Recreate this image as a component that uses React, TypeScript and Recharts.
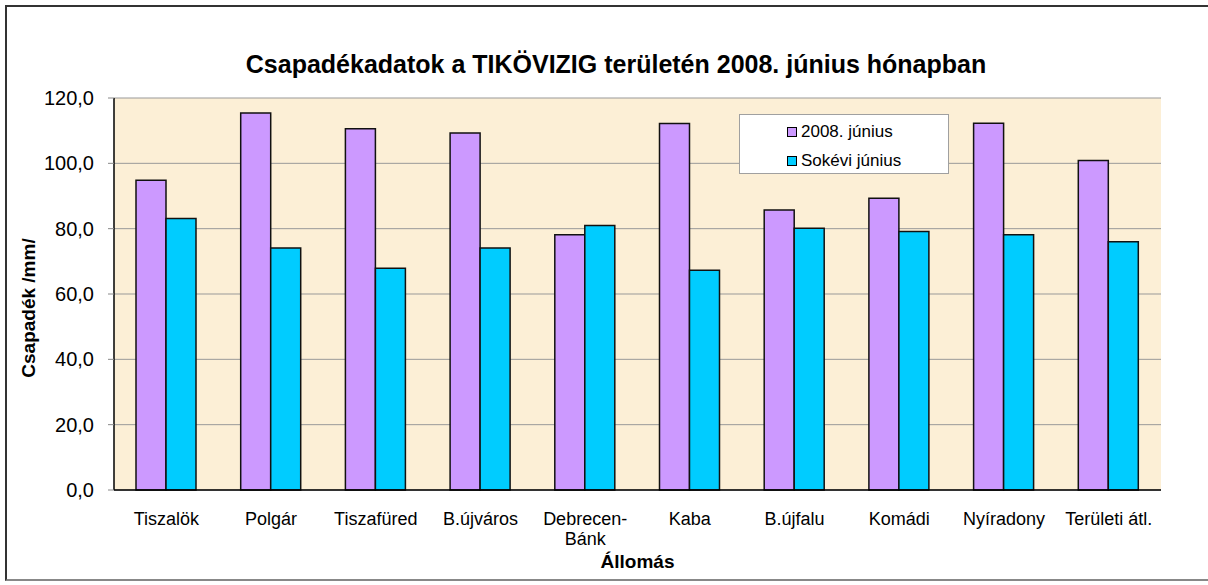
import React from 'react';
import { BarChart, Bar, XAxis, YAxis, CartesianGrid, Legend } from 'recharts';

const FONT = '"Liberation Sans", Arial, Helvetica, sans-serif';

const categories = ['Tiszalök', 'Polgár', 'Tiszafüred', 'B.újváros', 'Debrecen-Bánk', 'Kaba', 'B.újfalu', 'Komádi', 'Nyíradony', 'Területi átl.'];
const june2008 = [94.8, 115.4, 110.6, 109.3, 78.1, 112.2, 85.7, 89.3, 112.3, 100.9];
const longTermJune = [83.1, 74.1, 67.9, 74.1, 81.0, 67.3, 80.1, 79.1, 78.1, 76.0];
const yTicks = [0, 20, 40, 60, 80, 100, 120];
const edgeTicks = [0, 1, 2, 3, 4, 5, 6, 7, 8, 9, 10];

const seriesNames = ['2008. június', 'Sokévi június'];
const seriesColors = ['#CC99FF', '#00CCFF'];

const data = categories.map((c, i) => ({ name: c, a: june2008[i], b: longTermJune[i] }));

const CategoryTick = (props: any) => {
  const { x, y, payload } = props;
  const label: string = String(payload.value);
  const i = label.indexOf('-');
  const lines = i >= 0 ? [label.slice(0, i + 1), label.slice(i + 1)] : [label];
  return (
    <text x={x} y={y} textAnchor="middle" fontFamily={FONT} fontSize={18} fill="#000">
      {lines.map((l, k) => (
        <tspan key={k} x={x} dy={k === 0 ? 35 : 20}>{l}</tspan>
      ))}
    </text>
  );
};

const YLabel = (props: any) => {
  const vb = props.viewBox || { x: 14, y: 98, width: 100, height: 392 };
  const cx = vb.x + 14;
  const cy = vb.y + vb.height / 2 + 14;
  return (
    <text x={cx} y={cy} transform={`rotate(-90, ${cx}, ${cy})`} textAnchor="middle" dominantBaseline="central"
      fontFamily={FONT} fontSize={19} fontWeight="bold" fill="#000">Csapadék /mm/</text>
  );
};

const LegendBox = (props: any) => {
  const payload = props.payload || [];
  return (
    <div style={{ position: 'relative', width: 208, height: 58, background: '#fff', border: '1px solid #a0a0a0', fontFamily: FONT, fontSize: 17, color: '#000' }}>
      {payload.map((p: any, i: number) => (
        <div key={i} style={{ position: 'absolute', left: 47, top: 6 + i * 29, height: 21, lineHeight: '21px', display: 'flex', alignItems: 'center', whiteSpace: 'nowrap' }}>
          <span style={{ display: 'inline-block', width: 8, height: 8, border: '1px solid #000', background: p.color, marginRight: 4 }} />
          <span>{p.value}</span>
        </div>
      ))}
    </div>
  );
};

export default function App() {
  return (
    <div style={{ position: 'absolute', left: 0, top: 0, width: 1208, height: 585, background: '#fff' }}>
      <div style={{ position: 'absolute', left: 5, top: 5, width: 1203, height: 576, borderTop: '2px solid #333', borderLeft: '2px solid #333', borderBottom: '2px solid #888', boxSizing: 'border-box' }} />
      <div style={{ position: 'absolute', left: 116, width: 1000, top: 52, lineHeight: '24px', textAlign: 'center', fontFamily: FONT, fontSize: 25, fontWeight: 'bold', color: '#000' }}>
        Csapadékadatok a TIKÖVIZIG területén 2008. június hónapban
      </div>
      <div style={{ position: 'absolute', left: 0, top: 0 }}>
        <BarChart width={1208} height={585} data={data} margin={{ top: 98, right: 47, bottom: 15, left: 14 }} barGap={0} barSize={30}>
          <CartesianGrid xAxisId={1} yAxisId={0} horizontal vertical={false} fill="#FCEFD6" fillOpacity={1} stroke="#999" strokeWidth={1} />
          <XAxis xAxisId={0} type="number" domain={[0, 10]} ticks={edgeTicks} allowDataOverflow height={0} tick={false} axisLine={false} tickLine={{ stroke: '#888' }} tickSize={5} />
          <XAxis xAxisId={1} dataKey="name" type="category" height={80} tickSize={0} tickMargin={0} tickLine={false} interval={0}
            axisLine={{ stroke: '#000', strokeWidth: 1.5 }} tick={<CategoryTick />}
            label={{ value: 'Állomás', position: 'insideBottom', offset: 2, style: { fontFamily: FONT, fontSize: 19, fontWeight: 'bold', fill: '#000' } }} />
          <YAxis yAxisId={0} width={100} domain={[0, 120]} ticks={yTicks} interval={0} tickSize={6} tickMargin={14}
            tickFormatter={(v: number) => v.toFixed(1).replace('.', ',')}
            tick={{ fontFamily: FONT, fontSize: 20, fill: '#000' }}
            axisLine={{ stroke: '#000', strokeWidth: 1.5 }} tickLine={{ stroke: '#888' }}
            label={<YLabel />} />
          <YAxis yAxisId="r" orientation="right" width={0} tick={false} tickLine={false} axisLine={{ stroke: '#888' }} />
          <Legend layout="horizontal" align="center" verticalAlign="middle" content={<LegendBox />}
            wrapperStyle={{ left: 739, top: 114, width: 210, height: 60 }} />
          <Bar xAxisId={1} yAxisId={0} dataKey="a" name={seriesNames[0]} fill={seriesColors[0]} stroke="#111" strokeWidth={1.5} isAnimationActive={false} />
          <Bar xAxisId={1} yAxisId={0} dataKey="b" name={seriesNames[1]} fill={seriesColors[1]} stroke="#111" strokeWidth={1.5} isAnimationActive={false} />
        </BarChart>
      </div>
    </div>
  );
}
